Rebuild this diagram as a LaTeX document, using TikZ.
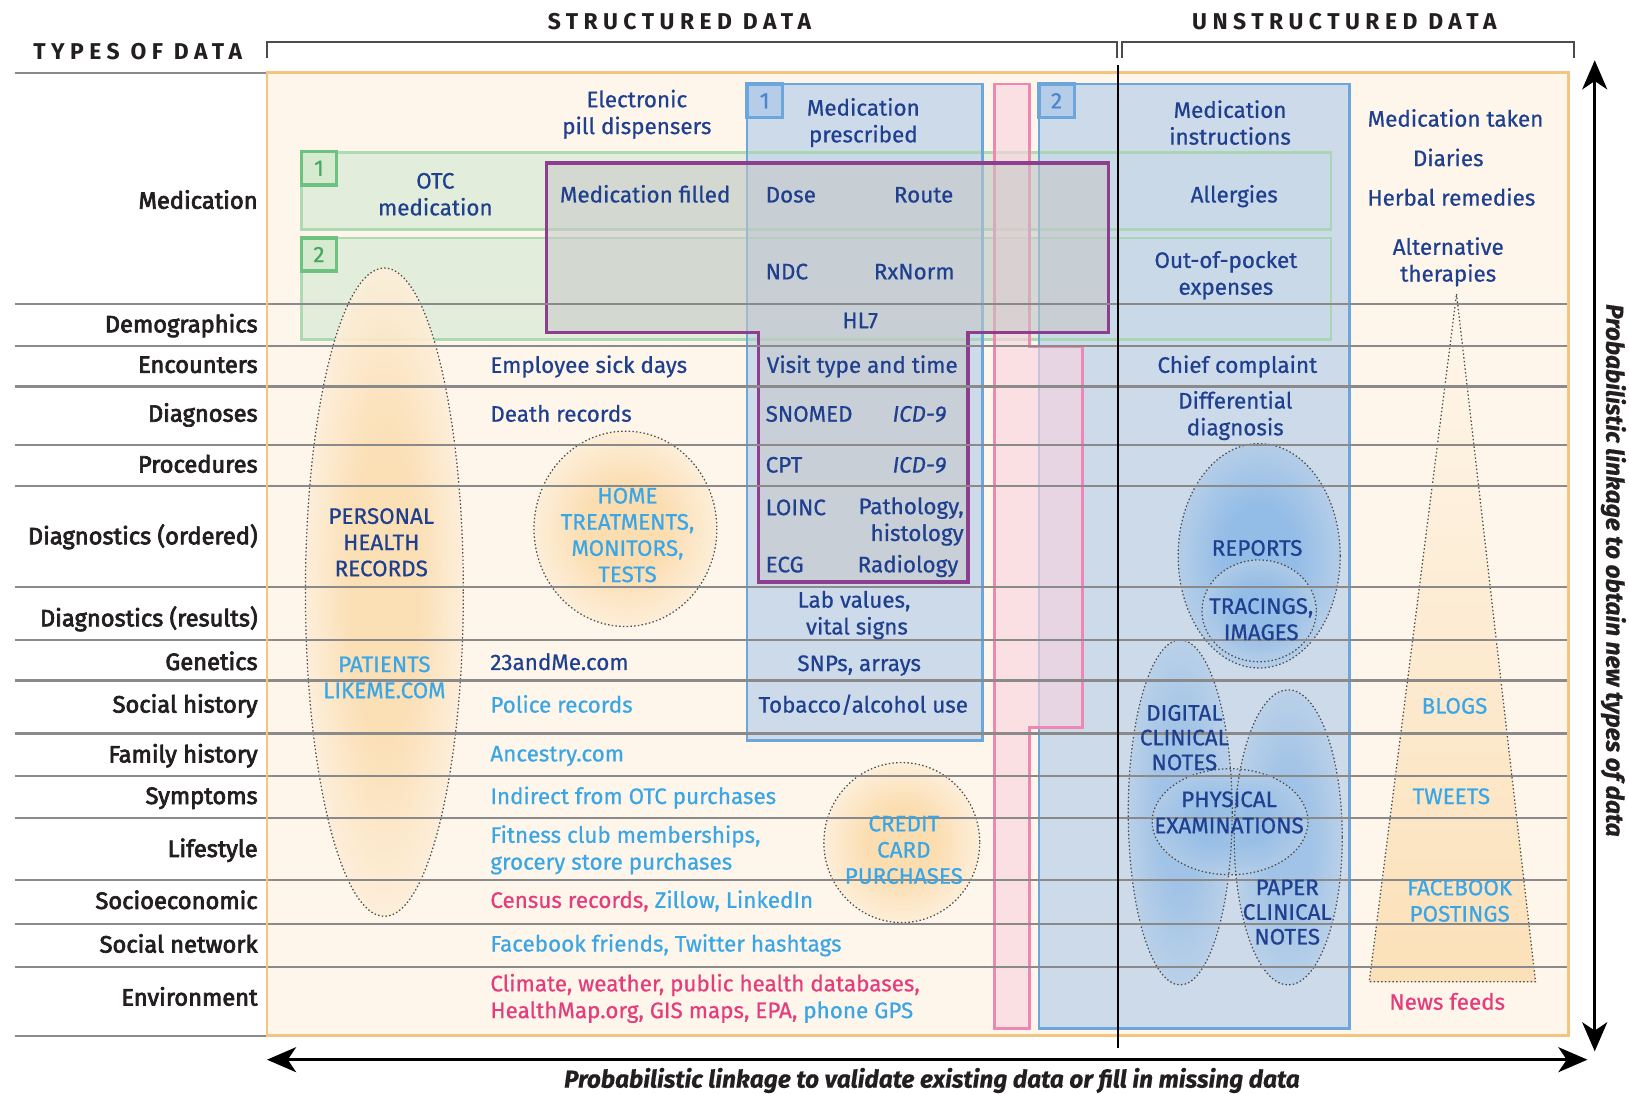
\documentclass[tikz,border=0pt]{standalone}
\usepackage{fontspec}
\setmainfont{Fira Sans}[FakeBold=0.6]
\newfontfamily\lblfont{Fira Sans}[FakeBold=3]
\newfontfamily\hdrfont{Fira Sans}[LetterSpace=24]
\usetikzlibrary{arrows.meta}
\definecolor{dblue}{HTML}{1F3F8F}
\definecolor{lblue}{HTML}{3AA6E6}
\definecolor{pinkt}{HTML}{E53C7C}
\definecolor{obg}{HTML}{FEF6EB}
\definecolor{oborder}{HTML}{F6C47E}
\definecolor{oshade}{HTML}{FBDDB0}
\definecolor{gfill}{HTML}{E2EEDB}
\definecolor{gborder}{HTML}{A3D6AB}
\definecolor{gnumb}{HTML}{6CC27F}
\definecolor{gnumfill}{HTML}{D6EAD0}
\definecolor{gnum}{HTML}{44A85E}
\definecolor{bfill}{HTML}{C6D7EA}
\definecolor{bborder}{HTML}{6CA6DA}
\definecolor{bnumfill}{HTML}{B6CDE9}
\definecolor{bnum}{HTML}{4A86CF}
\definecolor{bshade}{HTML}{93BCE6}
\definecolor{pkfill}{HTML}{F8D3E0}
\definecolor{pkborder}{HTML}{EE88B2}
\definecolor{purp}{HTML}{8E3E8E}
\definecolor{rowgray}{HTML}{8A8A8A}
\definecolor{labc}{HTML}{231F20}
\pgfdeclareradialshading{orfade}{\pgfpoint{0bp}{0bp}}{color(0bp)=(oshade); color(11bp)=(oshade); color(25bp)=(oshade!30!obg); color(50bp)=(obg)}
\pgfdeclareradialshading{blfade}{\pgfpoint{0bp}{0bp}}{color(0bp)=(bshade); color(11bp)=(bshade); color(25bp)=(bshade!35!bfill); color(50bp)=(bfill)}
\newcommand{\bodyfs}{\fontsize{10.8}{12.9}\selectfont}
\newcommand{\capsfs}{\fontsize{10.8}{12.6}\selectfont}
\newcommand{\tightfs}{\fontsize{10.8}{11.9}\selectfont}
\newcommand{\labfs}{\fontsize{11.4}{13}\selectfont}
\newcommand{\hdrfs}{\fontsize{11}{13}\selectfont}
\newcommand{\axisfs}{\fontsize{11.75}{14}\selectfont}
\begin{document}
\begin{tikzpicture}[x=0.5pt,y=-0.5pt,
  every node/.style={inner sep=0pt, outer sep=0pt},
  body/.style={font=\bodyfs, text=dblue, align=center},
  one/.style={font=\bodyfs, text=dblue, text height=0.69em, text depth=0pt},
  onew/.style={one, anchor=west},
  capst/.style={font=\capsfs, text=dblue, align=center},
  tcaps/.style={font=\tightfs, text=dblue, align=center},
  rowlab/.style={font=\lblfont\labfs, text=labc, anchor=east, text height=0.69em, text depth=0pt},
  hdr/.style={font=\hdrfont\bfseries\hdrfs, text=labc},
  axistxt/.style={font=\bfseries\itshape\axisfs, text=labc},
  rowline/.style={draw=rowgray, line width=1pt},
  dotline/.style={draw=black!70, line width=0.6pt, dash pattern=on 0.7pt off 1.1pt},
  numg/.style={draw=gnumb, line width=1.6pt, fill=gnumfill, text=gnum, minimum width=17pt, minimum height=16pt, font=\bodyfs},
  numb/.style={draw=bborder, line width=1.6pt, fill=bnumfill, text=bnum, minimum width=17pt, minimum height=16pt, font=\bodyfs},
  bigarrow/.style={line width=1.5pt, {Stealth[length=14pt,width=12pt,inset=4pt]}-{Stealth[length=14pt,width=12pt,inset=4pt]}}
]
\useasboundingbox (0,0) rectangle (1568,1053);
\fill[white] (0,0) rectangle (1568,1053);

% main panel
\fill[obg] (257,70) rectangle (1510,997);

% green bands
\fill[gfill] (290,147) rectangle (1281,221);
\fill[gfill] (290,229) rectangle (1281,327);

% blue columns
\fill[bfill, fill opacity=0.88] (719,81) rectangle (946,713);
\fill[bfill, fill opacity=0.88] (1000,81) rectangle (1299,990);

% borders of bands and columns
\draw[gborder, line width=1.3pt, opacity=0.85] (290,147) rectangle (1281,221);
\draw[gborder, line width=1.3pt, opacity=0.85] (290,229) rectangle (1281,327);
\draw[bborder, line width=1.3pt] (719,81) rectangle (946,713);
\draw[bborder, line width=1.3pt] (1000,81) rectangle (1299,990);

% pink strip
\path[fill=pkfill, fill opacity=0.65, draw=pkborder, line width=1.3pt]
  (957,81) -- (991,81) -- (991,334) -- (1042,334) -- (1042,700) -- (991,700) -- (991,990) -- (957,990) -- cycle;

% purple region
\fill[black!22, fill opacity=0.55]
  (526,157) -- (1067,157) -- (1067,320) -- (932,320) -- (932,560) -- (730,560) -- (730,320) -- (526,320) -- cycle;
\draw[purp, line width=1.8pt, line join=miter]
  (526,157) -- (1067,157) -- (1067,320) -- (932,320) -- (932,560) -- (730,560) -- (730,320) -- (526,320) -- cycle;

% number boxes
\node[numg] (g1) at (307,162) {1};
\node[numg] (g2) at (307,245) {2};
\node[numb] (b1) at (736,97) {1};
\node[numb] (b2) at (1017,97) {2};

% ellipses, orange
\shade[shading=orfade, opacity=0.9] (370,570) ellipse [x radius=76, y radius=312];
\draw[dotline] (370,570) ellipse [x radius=76, y radius=312];
\shade[shading=orfade] (602,509) ellipse [x radius=88, y radius=94];
\draw[dotline] (602,509) ellipse [x radius=88, y radius=94];
\shade[shading=orfade] (868,811) ellipse [x radius=75, y radius=77];
\draw[dotline] (868,811) ellipse [x radius=75, y radius=77];

% ellipses, blue
\shade[shading=blfade] (1212,535) ellipse [x radius=78, y radius=108];
\shade[shading=blfade, opacity=0.8] (1212,588) ellipse [x radius=55, y radius=49];
\draw[dotline] (1212,535) ellipse [x radius=78, y radius=108];
\draw[dotline] (1212,588) ellipse [x radius=55, y radius=49];
\shade[shading=blfade, opacity=0.75] (1136,782) ellipse [x radius=50, y radius=166];
\shade[shading=blfade, opacity=0.75] (1240,806) ellipse [x radius=52, y radius=142];
\shade[shading=blfade, opacity=0.75] (1184,791) ellipse [x radius=75, y radius=51];
\draw[dotline] (1136,782) ellipse [x radius=50, y radius=166];
\draw[dotline] (1240,806) ellipse [x radius=52, y radius=142];
\draw[dotline] (1184,791) ellipse [x radius=75, y radius=51];

% triangle
\shade[top color=obg, bottom color=oshade!85!obg] (1402,283) -- (1478,945) -- (1318,945) -- cycle;
\draw[dotline] (1402,283) -- (1478,945) -- (1318,945) -- cycle;

% row lines
\draw[rowline] (14,70) -- (257,70);
\draw[rowline] (14,997) -- (257,997);
\foreach \yy in {293,333,372,428,468,565,616,655,706,747,787,847,889,931}
  \draw[rowline] (14,\yy) -- (1510,\yy);
\draw[oborder, line width=1.3pt] (257,70) rectangle (1510,997);

% divider
\coordinate (dvt) at (1076,63);
\coordinate (dvb) at (1076,1009);
\draw[line width=1.1pt] (dvt) -- (dvb);

% brackets
\coordinate (sb1) at (257,56); \coordinate (sb2) at (257,40);
\coordinate (sb3) at (1075,40); \coordinate (sb4) at (1075,56);
\draw[black!70, line width=1pt] (sb1) -- (sb2) -- (sb3) -- (sb4);
\coordinate (ub1) at (1080,56); \coordinate (ub2) at (1080,40);
\coordinate (ub3) at (1515,40); \coordinate (ub4) at (1515,56);
\draw[black!70, line width=1pt] (ub1) -- (ub2) -- (ub3) -- (ub4);

% arrows
\coordinate (vt) at (1535,58);
\coordinate (vb) at (1535,1012);
\draw[bigarrow] (vt) -- (vb);
\coordinate (hl) at (257,1020);
\coordinate (hr) at (1528,1020);
\draw[bigarrow] (hl) -- (hr);

% headers
\node[hdr, anchor=east] (tod) at (233,50) {TYPES OF DATA};
\node[hdr] (sd) at (654,21) {STRUCTURED DATA};
\node[hdr] (ud) at (1294,21) {UNSTRUCTURED DATA};
\node[axistxt, rotate=-90] (rtext) at (1553,549) {Probabilistic linkage to obtain new types of data};
\node[axistxt] (btext) at (897,1040) {Probabilistic linkage to validate existing data or fill in missing data};

% row labels
\node[rowlab] (r1) at (248,194) {Medication};
\node[rowlab] (r2) at (248,313) {Demographics};
\node[rowlab] (r3) at (248,352) {Encounters};
\node[rowlab] (r4) at (248,399) {Diagnoses};
\node[rowlab] (r5) at (248,448) {Procedures};
\node[rowlab] (r6) at (248,517) {Diagnostics (ordered)};
\node[rowlab] (r7) at (248,596) {Diagnostics (results)};
\node[rowlab] (r8) at (248,638) {Genetics};
\node[rowlab] (r9) at (248,679) {Social history};
\node[rowlab] (r10) at (248,727) {Family history};
\node[rowlab] (r11) at (248,767) {Symptoms};
\node[rowlab] (r12) at (248,818) {Lifestyle};
\node[rowlab] (r13) at (248,868) {Socioeconomic};
\node[rowlab] (r14) at (248,910) {Social network};
\node[rowlab] (r15) at (248,961) {Environment};

% structured texts
\node[body] (ep) at (613,110) {Electronic\\pill dispensers};
\node[body] (mp) at (831,118) {Medication\\prescribed};
\node[body] (otc) at (419,187) {OTC\\medication};
\node[one] (mf) at (621,188) {Medication filled};
\node[onew] (dose) at (737,188) {Dose};
\node[one] (route) at (889,188) {Route};
\node[onew] (ndc) at (737,262) {NDC};
\node[one] (rxn) at (880,262) {RxNorm};
\node[one] (hl7) at (828,309) {HL7};
\node[one] (visit) at (830,352) {Visit type and time};
\node[onew] (snomed) at (737,399) {SNOMED};
\node[one, font=\bodyfs\itshape] (icda) at (885,399) {ICD-9};
\node[onew] (cpt) at (737,448) {CPT};
\node[one, font=\bodyfs\itshape] (icdb) at (885,448) {ICD-9};
\node[onew] (loinc) at (737,489) {LOINC};
\node[body, align=right] (patho) at (877,502) {Pathology,\\histology};
\node[onew] (ecg) at (737,544) {ECG};
\node[one] (radio) at (874,544) {Radiology};
\node[body] (labv) at (822,592) {Lab values,\\\ vital signs};
\node[one] (snp) at (827,639) {SNPs, arrays};
\node[one] (tob) at (831,679) {Tobacco/alcohol use};

% left column texts
\node[onew] (emp) at (472,352) {Employee sick days};
\node[onew] (death) at (472,399) {Death records};
\node[onew] (gen) at (472,638) {23andMe.com};
\node[onew, text=lblue] (police) at (472,679) {Police records};
\node[onew, text=lblue] (anc) at (472,726) {Ancestry.com};
\node[onew, text=lblue] (otcp) at (472,767) {Indirect from OTC purchases};
\node[body, anchor=west, align=left, text=lblue] (fit) at (472,818) {Fitness club memberships,\\grocery store purchases};
\node[onew] (cens) at (472,867) {\textcolor{pinkt}{Census records,} \textcolor{lblue}{Zillow, LinkedIn}};
\node[onew, text=lblue] (fbf) at (472,909) {Facebook friends, Twitter hashtags};
\node[body, anchor=west, align=left, text=pinkt] (clim) at (472,961) {Climate, weather, public health databases,\\HealthMap.org, GIS maps, EPA, \textcolor{lblue}{phone GPS}};

% unstructured texts
\node[body] (mi) at (1184,118) {Medication\\instructions};
\node[one] (allg) at (1188,188) {Allergies};
\node[body] (oop) at (1180,265) {Out-of-pocket\\expenses};
\node[one] (chief) at (1191,352) {Chief complaint};
\node[body] (diff) at (1189,400) {Differential\\diagnosis};
\node[one] (mtak) at (1401,115) {Medication taken};
\node[one] (diar) at (1394,153) {Diaries};
\node[one] (herb) at (1397,191) {Herbal remedies};
\node[body] (alter) at (1394,252) {Alternative\\therapies};

% ellipse texts
\node[capst] (phr) at (367,522) {PERSONAL\\HEALTH\\RECORDS};
\node[capst, text=lblue] (plm) at (370,652) {PATIENTS\\LIKEME.COM};
\node[capst, text=lblue] (home) at (604,515) {HOME\\TREATMENTS,\\MONITORS,\\TESTS};
\node[capst, text=lblue] (credit) at (870,818) {CREDIT\\CARD\\PURCHASES};
\node[one] (rep) at (1210,528) {REPORTS};
\node[capst] (trac) at (1214,596) {TRACINGS,\\IMAGES};
\node[tcaps] (dcn) at (1140,710) {DIGITAL\\CLINICAL\\NOTES};
\node[capst] (phys) at (1183,782) {PHYSICAL\\EXAMINATIONS};
\node[tcaps] (pcn) at (1239,878) {PAPER\\CLINICAL\\NOTES};
\node[one, text=lblue] (blogs) at (1400,680) {BLOGS};
\node[one, text=lblue] (tweets) at (1397,767) {TWEETS};
\node[capst, text=lblue] (fbp) at (1405,867) {FACEBOOK\\POSTINGS};
\node[one, text=pinkt] (news) at (1393,965) {News feeds};
\end{tikzpicture}
\end{document}
